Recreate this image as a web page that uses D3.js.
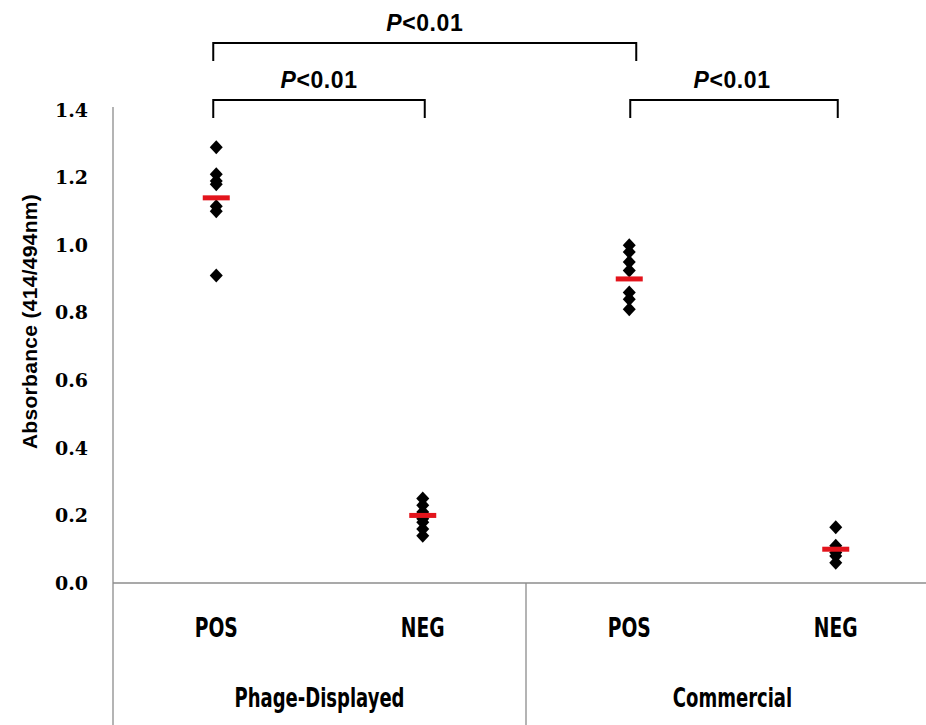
<!DOCTYPE html>
<meta charset="utf-8">
<head>
    <style>
        body { margin: 0; background: #fff; }
        svg { display: block; }
        .lbl { font-family: 'DejaVu Sans Condensed', 'DejaVu Sans', sans-serif; font-weight: bold; font-size: 26px; }
        .tick-lbl { font-family: 'DejaVu Serif', serif; font-weight: bold; font-size: 19px; }
        .ptext { font-family: 'Liberation Sans', Arial, sans-serif; font-weight: bold; font-size: 23px; letter-spacing: 0.6px; }
    </style>
</head>
<body>
    <svg width="926" height="725"></svg>
    <script src="https://d3js.org/d3.v7.min.js"></script>
    <script type="text/javascript">

        // data
        var categories = ["POS", "NEG", "POS", "NEG"];
        var groups = ["Phage-Displayed", "Commercial"];
        var phagePos = [1.29, 1.21, 1.19, 1.18, 1.115, 1.10, 0.91];
        var phageNeg = [0.25, 0.23, 0.21, 0.19, 0.18, 0.16, 0.14];
        var commPos = [1.00, 0.98, 0.95, 0.925, 0.86, 0.84, 0.81];
        var commNeg = [0.165, 0.11, 0.09, 0.08, 0.06];
        var means = [1.14, 0.20, 0.90, 0.10];
        var yTicks = [0, 0.2, 0.4, 0.6, 0.8, 1.0, 1.2, 1.4];
        // comparisons: [from category index, to category index, level]
        var comparisons = [[0, 2, 1], [0, 1, 0], [2, 3, 0]];
        var pLabel = "<0.01";

        var series = [phagePos, phageNeg, commPos, commNeg];

        var svg = d3.select("svg");
        var mLeft = 113, mRight = 939, mTop = 110, mBottom = 583;

        var x = d3.scaleBand()
            .domain(d3.range(categories.length))
            .range([mLeft, mRight]);

        var xg = d3.scaleBand()
            .domain(groups)
            .range([mLeft, mRight]);

        var y = d3.scaleLinear()
            .domain([0, 1.4])
            .range([mBottom, mTop]);

        // axis lines
        var grid = svg.append("g").attr("stroke", "#8c8c8c").attr("stroke-width", 1.3);
        grid.append("line").attr("x1", mLeft).attr("x2", mLeft).attr("y1", mTop - 3).attr("y2", 725);
        grid.append("line").attr("x1", mLeft).attr("x2", 926).attr("y1", mBottom).attr("y2", mBottom);
        grid.append("line").attr("x1", xg(groups[1])).attr("x2", xg(groups[1])).attr("y1", mBottom).attr("y2", 725);

        // y tick labels
        svg.append("g")
            .selectAll("text")
            .data(yTicks)
            .enter().append("text")
            .attr("class", "tick-lbl")
            .attr("x", mLeft - 25)
            .attr("y", function (d) { return y(d); })
            .attr("dy", "0.35em")
            .attr("text-anchor", "end")
            .text(function (d) { return d3.format(".1f")(d); });

        // y title
        svg.append("text")
            .attr("class", "ptext")
            .attr("transform", "translate(30," + ((mTop + mBottom) / 2 - 25) + ") rotate(-90)")
            .attr("text-anchor", "middle")
            .attr("dy", "0.35em")
            .style("font-size", "21px")
            .style("letter-spacing", "0.3px")
            .text("Absorbance (414/494nm)");

        // category labels (condensed look)
        svg.append("g")
            .selectAll("text")
            .data(categories)
            .enter().append("text")
            .attr("class", "lbl")
            .attr("transform", function (d, i) {
                return "translate(" + (x(i) + x.bandwidth() / 2) + ",637) scale(0.8,1)";
            })
            .attr("text-anchor", "middle")
            .text(function (d) { return d; });

        svg.append("g")
            .selectAll("text")
            .data(groups)
            .enter().append("text")
            .attr("class", "lbl")
            .attr("transform", function (d) {
                return "translate(" + (xg(d) + xg.bandwidth() / 2) + ",707) scale(0.77,1)";
            })
            .attr("text-anchor", "middle")
            .text(function (d) { return d; });

        // points
        var diamond = function (cx, cy) {
            var w = 6.5, h = 7;
            return "M" + cx + "," + (cy - h) + "L" + (cx + w) + "," + cy + "L" + cx + "," + (cy + h) + "L" + (cx - w) + "," + cy + "Z";
        };

        series.forEach(function (vals, i) {
            var cx = x(i) + x.bandwidth() / 2;
            svg.append("g")
                .selectAll("path")
                .data(vals)
                .enter().append("path")
                .attr("d", function (d) { return diamond(cx, y(d)); })
                .attr("fill", "#000");
        });

        // mean bars
        svg.append("g")
            .selectAll("rect")
            .data(means)
            .enter().append("rect")
            .attr("x", function (d, i) { return x(i) + x.bandwidth() / 2 - 13.5; })
            .attr("y", function (d) { return y(d) - 2.5; })
            .attr("width", 27)
            .attr("height", 5)
            .attr("fill", "#e3141c");

        // significance brackets
        var levelY = [100, 43];
        var br = svg.append("g");
        comparisons.forEach(function (c) {
            var x1 = x(c[0]) + x.bandwidth() / 2 - 3;
            var x2 = x(c[1]) + x.bandwidth() / 2 + (c[2] ? 7 : 2);
            var yy = levelY[c[2]];
            br.append("path")
                .attr("d", "M" + (c[0] === 2 ? x1 + 4 : x1) + "," + (yy + 18) + "V" + yy + "H" + x2 + "V" + (yy + 18))
                .attr("fill", "none")
                .attr("stroke", "#000")
                .attr("stroke-width", 2);
            var t = br.append("text")
                .attr("class", "ptext")
                .attr("x", (x1 + x2) / 2)
                .attr("y", yy - 12)
                .attr("text-anchor", "middle");
            t.append("tspan").style("font-style", "italic").text("P");
            t.append("tspan").text(pLabel);
        });

    </script>
</body>
